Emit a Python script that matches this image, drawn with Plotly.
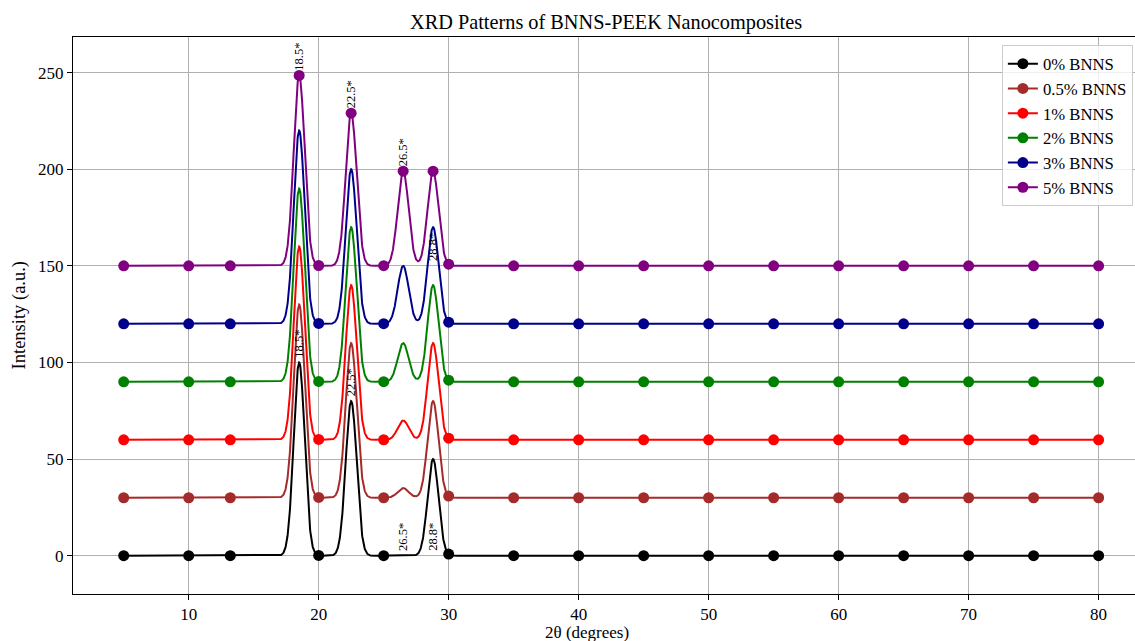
import numpy as np
import plotly.graph_objects as go

# ---- data ----
series_labels = ["0% BNNS", "0.5% BNNS", "1% BNNS", "2% BNNS", "3% BNNS", "5% BNNS"]
series_colors = ["black", "#A52A2A", "red", "green", "#00008B", "purple"]
baseline_offsets = [0, 30, 60, 90, 120, 150]
peak_positions = [18.5, 22.5, 26.5, 28.8]
peak_heights = [
    [100, 80, 0, 50],
    [100, 80, 5, 50],
    [100, 80, 10, 50],
    [100, 80, 20, 50],
    [100, 80, 30, 50],
    [98.5, 79, 49, 49],
]
peak_sigma = 0.42
two_theta_start, two_theta_end = 5, 80
marker_positions = [5, 10, 13.2, 20, 25, 30, 35, 40, 45, 50, 55, 60, 65, 70, 75, 80]
peak_labels = ["18.5*", "22.5*", "26.5*", "28.8*"]
labelled_series = [0, 5]
x_ticks = [10, 20, 30, 40, 50, 60, 70, 80]
y_ticks = [0, 50, 100, 150, 200, 250]

FONT = "Liberation Serif, Times New Roman, serif"

two_theta = np.linspace(two_theta_start, two_theta_end, 3751)


def pattern(x, heights, offset):
    x = np.asarray(x, dtype=float)
    y = np.full_like(x, float(offset))
    for p, h in zip(peak_positions, heights):
        y = y + h * np.exp(-0.5 * ((x - p) / peak_sigma) ** 2)
    return y


fig = go.Figure()
for i, (lab, col, off, hts) in enumerate(zip(series_labels, series_colors, baseline_offsets, peak_heights)):
    fig.add_trace(go.Scatter(x=two_theta, y=pattern(two_theta, hts, off), mode="lines",
                             line=dict(color=col, width=2), showlegend=False, hoverinfo="skip"))
    mx = list(marker_positions)
    if i == len(series_labels) - 1:
        mx = sorted(mx + peak_positions)
    fig.add_trace(go.Scatter(x=mx, y=pattern(mx, hts, off), mode="markers",
                             marker=dict(color=col, size=11), showlegend=False))
    fig.add_trace(go.Scatter(x=[None], y=[None], mode="lines+markers", name=lab,
                             line=dict(color=col, width=2), marker=dict(color=col, size=11)))

annotations = []
for si in labelled_series:
    hts = peak_heights[si]
    off = baseline_offsets[si]
    for k, (p, txt) in enumerate(zip(peak_positions, peak_labels)):
        if k <= 2:
            yv = off + hts[k]
        else:
            yv = off
        annotations.append(dict(x=p, y=yv, xref="x", yref="y", text=txt, showarrow=False,
                                textangle=-90, xanchor="center", yanchor="bottom", yshift=3,
                                font=dict(family=FONT, size=12.5, color="black")))

annotations.append(dict(x=0.484, y=-0.0685, xref="paper", yref="paper", text="2θ (degrees)",
                        showarrow=False, xanchor="center", yanchor="middle",
                        font=dict(family=FONT, size=17, color="black")))
annotations.append(dict(x=-0.05, y=0.5, xref="paper", yref="paper", text="Intensity (a.u.)",
                        showarrow=False, textangle=-90, xanchor="center", yanchor="middle",
                        font=dict(family=FONT, size=18.5, color="black")))

fig.update_layout(
    width=1135, height=641,
    margin=dict(l=73, r=0, t=37, b=47, autoexpand=False),
    paper_bgcolor="white", plot_bgcolor="white",
    font=dict(family=FONT, size=17, color="black"),
    title=dict(text="XRD Patterns of BNNS-PEEK Nanocomposites", x=0.534, xanchor="center",
               y=1 - 22 / 641, yanchor="middle", font=dict(family=FONT, size=20.3, color="black")),
    xaxis=dict(range=[1.1, 82.8], tickvals=x_ticks, ticks="outside", ticklen=5, tickcolor="black",
               tickfont=dict(family=FONT, size=17, color="black"),
               showgrid=True, gridcolor="#b0b0b0", gridwidth=1, zeroline=False,
               showline=True, linecolor="black", linewidth=1, mirror=True),
    yaxis=dict(range=[-19.8, 268.4], tickvals=y_ticks, ticks="outside", ticklen=5, tickcolor="black",
               tickfont=dict(family=FONT, size=17, color="black"),
               showgrid=True, gridcolor="#b0b0b0", gridwidth=1, zeroline=False,
               showline=True, linecolor="black", linewidth=1, mirror=False),
    legend=dict(x=0.998, y=0.985, xanchor="right", yanchor="top",
                bgcolor="rgba(255,255,255,0.8)", bordercolor="#cccccc", borderwidth=1,
                font=dict(family=FONT, size=16.7, color="black"), tracegroupgap=0,
                itemwidth=30),
    annotations=annotations,
)

fig.write_html("out.html", config={"displayModeBar": False},
               post_script="document.body.style.margin='0px';document.body.style.overflow='hidden';")
